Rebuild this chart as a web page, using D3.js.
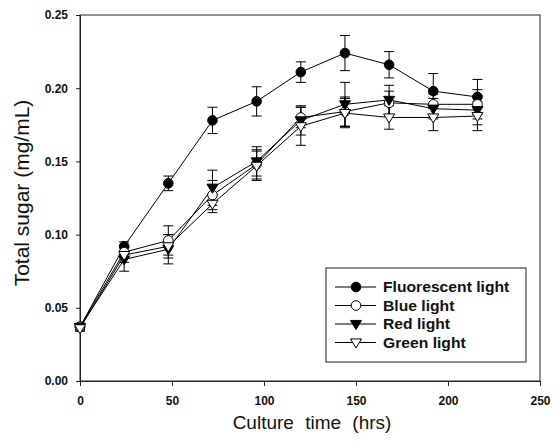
<!DOCTYPE html>
<html>
<head>
<meta charset="utf-8">
<script src="https://cdn.jsdelivr.net/npm/d3@7"></script>
<style>
  html, body { margin: 0; padding: 0; background: #fff; }
  svg { display: block; font-family: Arial, "Liberation Sans", sans-serif; }
</style>
</head>
<body>
<svg id="chart" width="559" height="443"></svg>
<script>
// Culture time points (hrs)
const hours = [0, 24, 48, 72, 96, 120, 144, 168, 192, 216];

// Total sugar (mg/mL) means and error bars for each light source
const fluorescent    = [0.037, 0.092, 0.135, 0.178, 0.191, 0.211, 0.224, 0.216, 0.198, 0.194];
const fluorescentErr = [0.002, 0.003, 0.005, 0.009, 0.010, 0.007, 0.012, 0.009, 0.012, 0.012];
const blue           = [0.037, 0.088, 0.096, 0.127, 0.148, 0.180, 0.184, 0.190, 0.189, 0.189];
const blueErr        = [0.002, 0.004, 0.010, 0.010, 0.010, 0.007, 0.010, 0.008, 0.007, 0.010];
const red            = [0.037, 0.083, 0.090, 0.132, 0.150, 0.178, 0.189, 0.192, 0.186, 0.185];
const redErr         = [0.002, 0.008, 0.010, 0.012, 0.010, 0.010, 0.015, 0.010, 0.007, 0.010];
const green          = [0.036, 0.086, 0.092, 0.121, 0.147, 0.174, 0.183, 0.180, 0.180, 0.181];
const greenErr       = [0.002, 0.005, 0.008, 0.006, 0.010, 0.013, 0.010, 0.008, 0.009, 0.010];

const seriesNames = ["Fluorescent light", "Blue light", "Red light", "Green light"];
const xTicks = [0, 50, 100, 150, 200, 250];
const yTicks = [0.00, 0.05, 0.10, 0.15, 0.20, 0.25];

const series = [
  { name: seriesNames[0], values: fluorescent, err: fluorescentErr, shape: "circle",   fill: "#000" },
  { name: seriesNames[1], values: blue,        err: blueErr,        shape: "circle",   fill: "#fff" },
  { name: seriesNames[2], values: red,         err: redErr,         shape: "triangle", fill: "#000" },
  { name: seriesNames[3], values: green,       err: greenErr,       shape: "triangle", fill: "#fff" }
];

const svg = d3.select("#chart");
const margin = { left: 80, right: 19, top: 15, bottom: 62 };
const W = 559, H = 443;

const x = d3.scaleLinear().domain([0, 250]).range([margin.left, W - margin.right]);
const y = d3.scaleLinear().domain([0, 0.25]).range([H - margin.bottom, margin.top]);

// Plot frame
svg.append("rect")
  .attr("x", x(0)).attr("y", y(0.25))
  .attr("width", x(250) - x(0)).attr("height", y(0) - y(0.25))
  .attr("fill", "none").attr("stroke", "#222").attr("stroke-width", 1);

// Axes
const xAxis = svg.append("g")
  .attr("transform", `translate(0,${y(0)})`)
  .call(d3.axisBottom(x).tickValues(xTicks).tickFormat(d3.format("d")).tickSize(5).tickPadding(10));
const yAxis = svg.append("g")
  .attr("transform", `translate(${x(0)},0)`)
  .call(d3.axisLeft(y).tickValues(yTicks).tickFormat(d3.format(".2f")).tickSize(4).tickPadding(8));

[xAxis, yAxis].forEach(g => {
  g.select(".domain").attr("stroke", "#222");
  g.selectAll(".tick line").attr("stroke", "#222");
  g.selectAll(".tick text")
    .attr("fill", "#111")
    .style("font-size", "12px")
    .style("font-weight", "bold")
    .style("font-family", "Arial, 'Liberation Sans', sans-serif");
});

// Axis titles
svg.append("text")
  .attr("x", (x(0) + x(250)) / 2 + 2).attr("y", 429)
  .attr("text-anchor", "middle")
  .style("font-size", "19px").style("word-spacing", "6px")
  .attr("fill", "#111")
  .text("Culture time (hrs)");

svg.append("text")
  .attr("transform", `translate(29,193) rotate(-90)`)
  .attr("text-anchor", "middle")
  .style("font-size", "21px")
  .attr("fill", "#111")
  .text("Total sugar (mg/mL)");

const capW = 5;
const line = d3.line().x((d, i) => x(hours[i])).y(d => y(d));

function drawMarker(g, shape, fill, cx, cy) {
  if (shape === "circle") {
    g.append("circle").attr("cx", cx).attr("cy", cy).attr("r", 4.8)
      .attr("fill", fill).attr("stroke", "#000").attr("stroke-width", 1);
  } else {
    const s = 5.5;
    g.append("path")
      .attr("d", `M${cx - s},${cy - s * 0.65} L${cx + s},${cy - s * 0.65} L${cx},${cy + s * 1.0} Z`)
      .attr("fill", fill).attr("stroke", "#000").attr("stroke-width", 1);
  }
}

const plot = svg.append("g");

// Error bars
series.forEach(s => {
  const g = plot.append("g");
  s.values.forEach((v, i) => {
    const cx = x(hours[i]);
    const lo = y(v - s.err[i]), hi = y(v + s.err[i]);
    g.append("line").attr("x1", cx).attr("x2", cx).attr("y1", lo).attr("y2", hi)
      .attr("stroke", "#000").attr("stroke-width", 1);
    [lo, hi].forEach(yy => g.append("line")
      .attr("x1", cx - capW).attr("x2", cx + capW).attr("y1", yy).attr("y2", yy)
      .attr("stroke", "#000").attr("stroke-width", 1));
  });
});

// Connecting lines
series.forEach(s => {
  plot.append("path").datum(s.values).attr("d", line)
    .attr("fill", "none").attr("stroke", "#000").attr("stroke-width", 1);
});

// Markers
series.forEach(s => {
  const g = plot.append("g");
  s.values.forEach((v, i) => drawMarker(g, s.shape, s.fill, x(hours[i]), y(v)));
});

// Legend
const lg = svg.append("g");
const lx = 326, ly = 268;
lg.append("rect").attr("x", lx).attr("y", ly).attr("width", 200).attr("height", 94)
  .attr("fill", "#fff").attr("stroke", "#222").attr("stroke-width", 1);
series.forEach((s, i) => {
  const yy = ly + 19 + i * 18.5;
  lg.append("line").attr("x1", lx + 9).attr("x2", lx + 50).attr("y1", yy).attr("y2", yy)
    .attr("stroke", "#000").attr("stroke-width", 1);
  drawMarker(lg, s.shape, s.fill, lx + 30, yy);
  lg.append("text")
    .attr("transform", `translate(${lx + 57},${yy + 5}) scale(1.12,1)`)
    .style("font-size", "14px").style("font-weight", "bold")
    .attr("fill", "#111")
    .text(s.name);
});
</script>
</body>
</html>
